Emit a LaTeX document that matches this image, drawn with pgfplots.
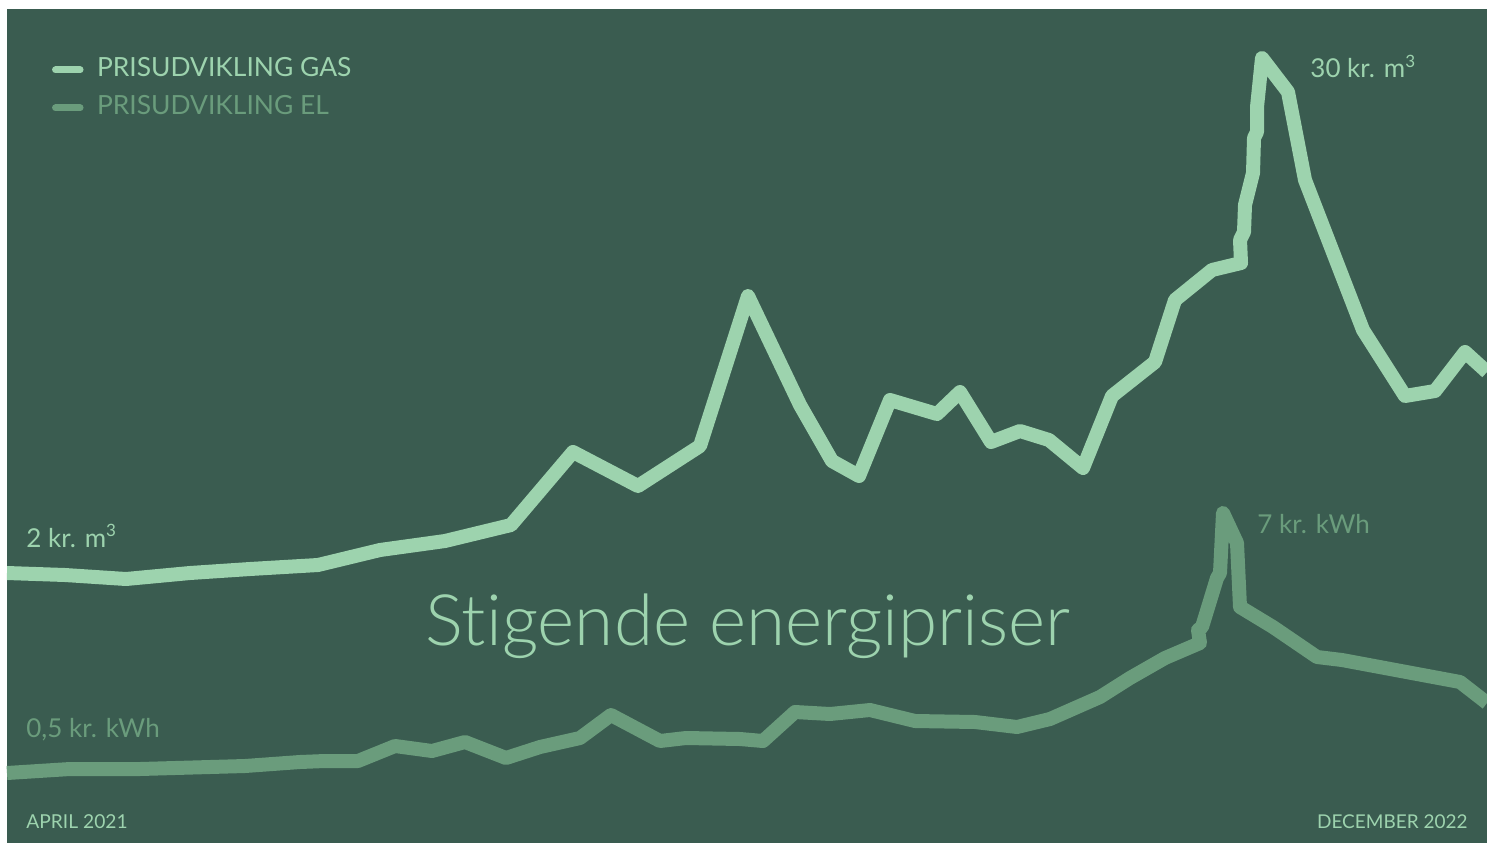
\documentclass[border=0pt]{standalone}
\usepackage{pgfplots}
\pgfplotsset{compat=1.18}
\usepackage{fontspec}
\setmainfont{Lato}
\newfontfamily\lightfont{Lato Light}[Ligatures=NoCommon]
\definecolor{bg}{HTML}{3A5C50}
\definecolor{gas}{HTML}{9DD3AE}
\definecolor{el}{HTML}{6A9C7C}
\newcommand{\supthree}{\raisebox{0.42em}{\fontsize{8.5}{8.5}\selectfont 3}}
\begin{document}
\begin{tikzpicture}
\begin{axis}[
  width=743.5pt, height=421.5pt, scale only axis,
  xmin=0, xmax=1487, ymin=0, ymax=843,
  axis lines=none, ticks=none,
  clip=true,
  axis background/.style={fill=white},
  legend style={at={(0.0350,0.9312)}, anchor=north west, draw=none, fill=none,
    inner sep=0pt, outer sep=0pt, row sep=7pt, column sep=6.75pt,
    font=\fontsize{13.2}{13.2}\selectfont,
    nodes={inner sep=0pt, text height=9pt, text depth=3pt}},
  legend cell align=left,
  legend image code/.code={\draw[line width=3.5pt, line cap=round] (1.75pt,0pt) -- (14pt,0pt);},
]
\fill[bg] (axis cs:7,0) rectangle (axis cs:1487,834);
\addplot[gas, line width=7pt, line cap=butt, line join=round] coordinates {
(7,270) (65,268) (126,264) (190,270) (250,274) (318,278) (380,293) (445,302)
(511,318) (573,391) (638,357) (700,397) (748,547) (800,438) (832,382) (859,367)
(890,443) (937,429) (960,451) (991,401) (1020,412) (1049,403) (1083,375)
(1112,447) (1155,481) (1175,543) (1212,573) (1241,580) (1240,603) (1244,611)
(1245,638) (1253,670) (1254,705) (1257,711) (1257,736) (1262,785) (1288,751)
(1305,663) (1363,513) (1405,447) (1435,452) (1465,491) (1487,471)
};
\addlegendentry{\textcolor{gas}{PRISUDVIKLING GAS}}
\addplot[el, line width=7pt, line cap=butt, line join=round] coordinates {
(7,70) (70,74) (140,74) (245,77) (300,81) (325,82) (358,82) (395,97) (432,92)
(465,101) (506,85) (540,96) (580,105) (611,128) (660,102) (686,105) (740,104)
(763,102) (795,131) (830,129) (870,133) (915,122) (975,121) (1017,116)
(1050,124) (1100,146) (1130,165) (1165,185) (1200,200) (1198,213) (1202,216)
(1217,265) (1220,270) (1223,330) (1237,300) (1240,236) (1273,216) (1317,186)
(1342,183) (1460,161) (1487,140)
};
\addlegendentry{\textcolor{el}{PRISUDVIKLING EL}}
\node[anchor=base west, inner sep=0pt, text=gas, font=\fontsize{13}{13}\selectfont] at (axis cs:26,296) {2 kr. m\supthree};
\node[anchor=base west, inner sep=0pt, text=gas, font=\fontsize{13}{13}\selectfont] at (axis cs:1310,765) {30 kr. m\supthree};
\node[anchor=base west, inner sep=0pt, text=el, font=\fontsize{13}{13}\selectfont] at (axis cs:26,106) {0,5 kr. kWh};
\node[anchor=base west, inner sep=0pt, text=el, font=\fontsize{13}{13}\selectfont] at (axis cs:1257,310) {7 kr. kWh};
\node[anchor=base west, inner sep=0pt, text=gas, font=\fontsize{9.6}{9.6}\selectfont] at (axis cs:26,15) {APRIL 2021};
\node[anchor=base east, inner sep=0pt, text=gas, font=\fontsize{9.5}{9.5}\selectfont] at (axis cs:1468,15) {DECEMBER 2022};
\node[anchor=base, inner sep=0pt, text=gas, font=\lightfont\fontsize{35.5}{35.5}\selectfont] at (axis cs:748,198) {Stigende energipriser};
\end{axis}
\end{tikzpicture}
\end{document}
